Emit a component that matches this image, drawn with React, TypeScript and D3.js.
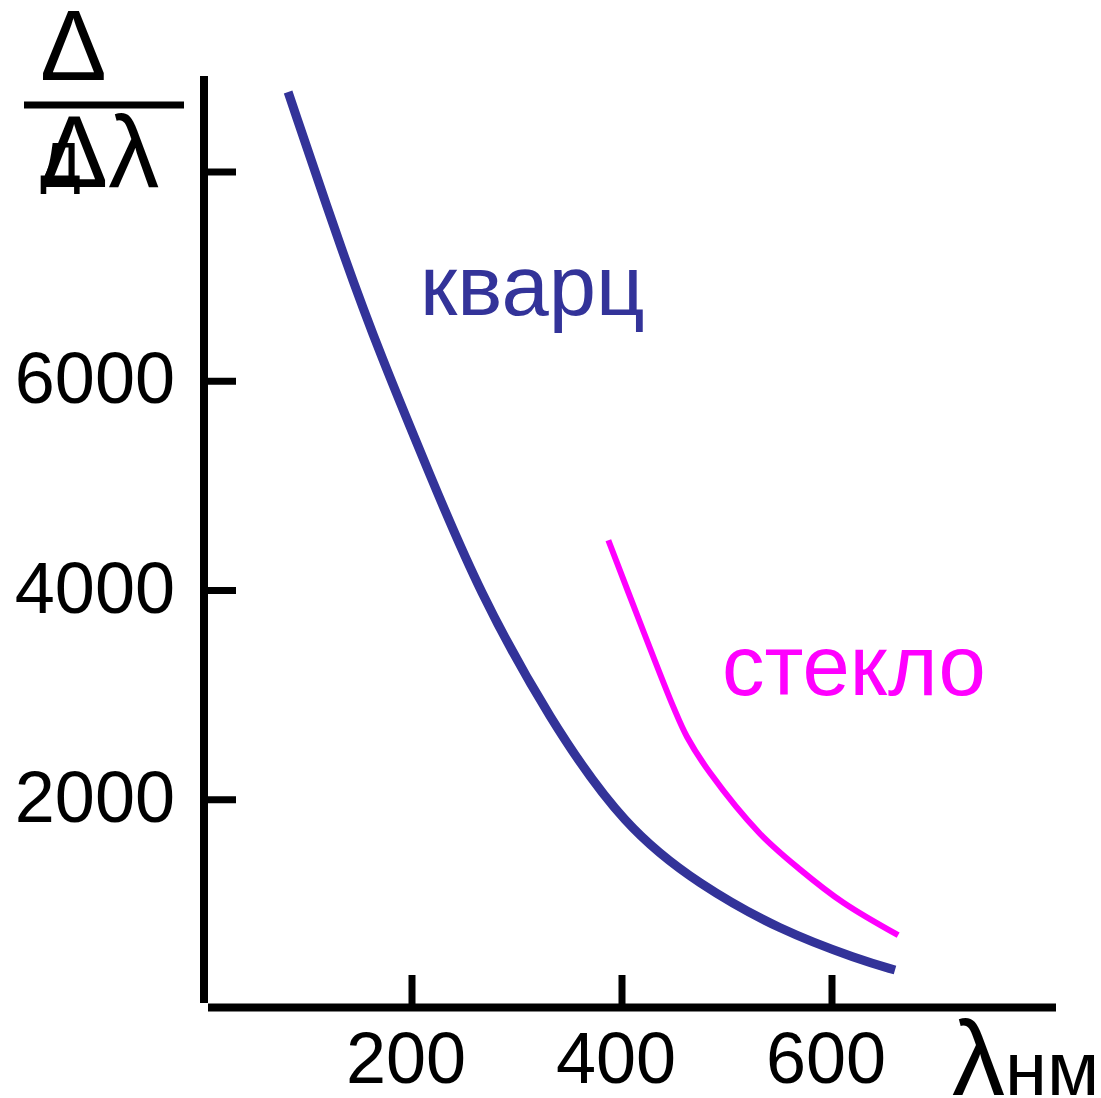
import React from 'react';
import * as d3 from 'd3';

// wavelength (nm) vs dispersion
const quartzX = [82, 136, 170, 217, 263, 331, 403, 474, 550, 627, 660];
const quartzY = [8765, 7160, 6250, 5105, 4005, 2762, 1730, 1185, 755, 468, 373];
const glassX = [387, 420, 449, 462, 484, 531, 570, 611, 663];
const glassY = [4480, 3620, 2885, 2600, 2255, 1680, 1330, 1015, 705];

const xTicks = [200, 400, 600];
const yTicks = [2000, 4000, 6000, 8000];
const yTickLabels = ['2000', '4000', '6000', ''];

const width = 1101, height = 1098;
const font = 'Liberation Sans, Arial, sans-serif';

function App() {
  const x = d3.scaleLinear().domain([0, 600]).range([202, 832]);
  const y = d3.scaleLinear().domain([0, 8000]).range([1009, 172]);

  const smooth = d3.line<[number, number]>()
    .x((d) => x(d[0]))
    .y((d) => y(d[1]))
    .curve(d3.curveBasis);

  const line = d3.line<[number, number]>()
    .x((d) => x(d[0]))
    .y((d) => y(d[1]))
    .curve(d3.curveCatmullRom.alpha(0.5));

  const quartz = quartzX.map((v, i) => [v, quartzY[i]] as [number, number]);
  const glass = glassX.map((v, i) => [v, glassY[i]] as [number, number]);

  return (
    <svg width={width} height={height} style={{ position: 'absolute', left: 0, top: 0, background: '#fff' }}
      fontFamily={font}>
      {/* axes */}
      <line x1={204} x2={204} y1={76} y2={1003} stroke="#000" strokeWidth={8} />
      <line x1={208} x2={1056} y1={1007.5} y2={1007.5} stroke="#000" strokeWidth={8} />

      {yTicks.map((t, i) => (
        <g key={t}>
          <line x1={208} x2={236} y1={y(t)} y2={y(t)} stroke="#000" strokeWidth={7} />
          <text x={175} y={y(t) + 22} textAnchor="end" fontSize={72}>{yTickLabels[i]}</text>
        </g>
      ))}
      {xTicks.map((t) => (
        <g key={t}>
          <line x1={x(t)} x2={x(t)} y1={975} y2={1004} stroke="#000" strokeWidth={7} />
          <text x={x(t) - 6} y={1083} textAnchor="middle" fontSize={72}>{t}</text>
        </g>
      ))}

      {/* curves */}
      <path d={smooth(quartz) || ''} fill="none" stroke="#333399" strokeWidth={9} />
      <path d={line(glass) || ''} fill="none" stroke="#ff00ff" strokeWidth={6} />

      <text x={420} y={315} fontSize={85} fill="#333399">кварц</text>
      <text x={722} y={695} fontSize={85} fill="#ff00ff">стекло</text>

      {/* y axis title: fraction */}
      <text x={40} y={80} fontSize={100}>Δ</text>
      <line x1={24} x2={184} y1={105} y2={105} stroke="#000" strokeWidth={7} />
      <text x={40} y={180} fontSize={70}>д</text>
      <text x={40} y={187} fontSize={102}>Δλ</text>

      {/* x axis title */}
      <text x={952} y={1095} fontSize={106}>λ<tspan fontSize={76}>нм</tspan></text>
    </svg>
  );
}

export default App;
